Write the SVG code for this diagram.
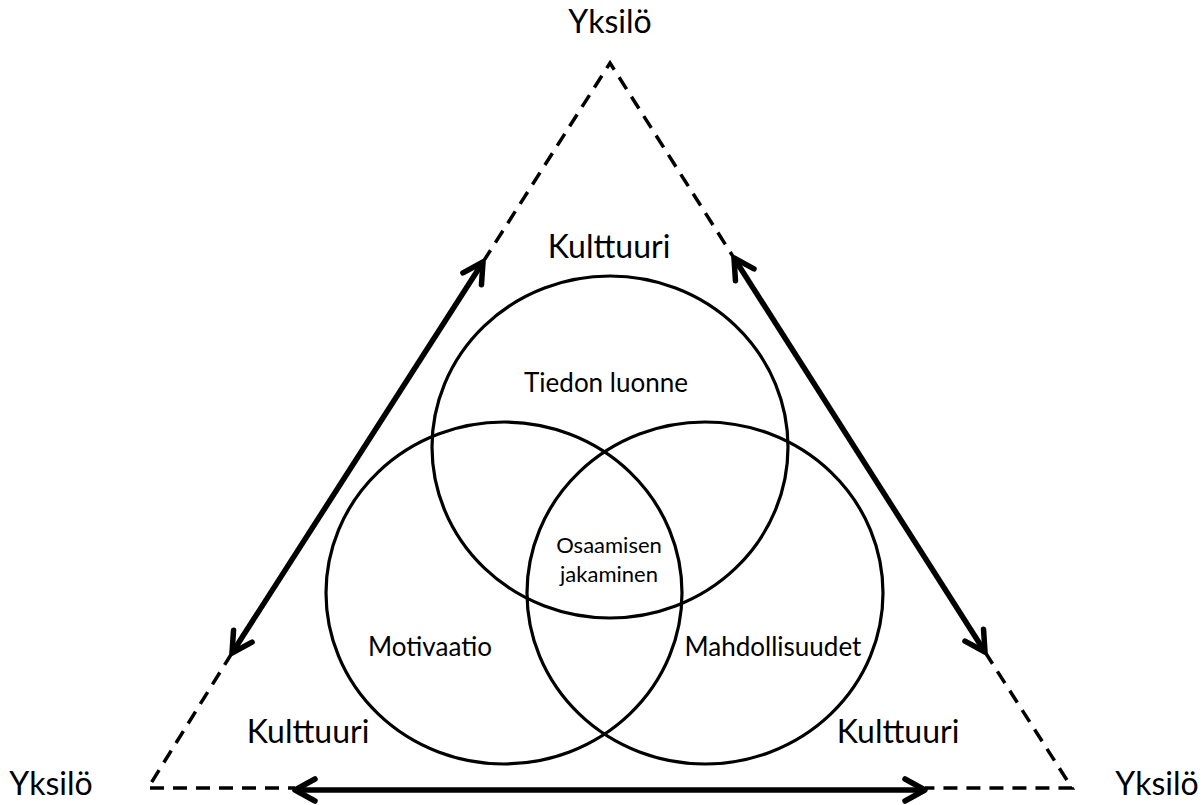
<svg xmlns="http://www.w3.org/2000/svg" width="1204" height="805" viewBox="0 0 1204 805">
<style>
.dash{fill:none;stroke:#000;stroke-width:3.5;stroke-dasharray:14 9}
.arr{fill:none;stroke:#000;stroke-width:5.5;marker-start:url(#ah);marker-end:url(#ah)}
.circ{fill:none;stroke:#000;stroke-width:3.2}
.big{font-family:Lato,"Liberation Sans",sans-serif;font-size:32px;fill:#000;text-anchor:middle}
.mid{font-family:Lato,"Liberation Sans",sans-serif;font-size:26px;fill:#000;text-anchor:middle}
.sm{font-family:Lato,"Liberation Sans",sans-serif;font-size:22px;fill:#000;text-anchor:middle}
</style>
<defs>
<marker id="ah" markerUnits="userSpaceOnUse" viewBox="-26 -16 30 32" markerWidth="30" markerHeight="32" refX="0" refY="0" orient="auto-start-reverse" overflow="visible">
<path d="M-20,-11 L0,0 L-20,11" fill="none" stroke="#000" stroke-width="5.5" stroke-linecap="round" stroke-linejoin="round"/>
</marker>
</defs>
<rect width="1204" height="805" fill="#fff"/>
<g id="circles">
<ellipse id="c-top" class="circ" cx="610" cy="447" rx="178" ry="171"/>
<ellipse id="c-left" class="circ" cx="504" cy="593" rx="178" ry="171"/>
<ellipse id="c-right" class="circ" cx="705" cy="593" rx="178" ry="171"/>
</g>
<g id="connectors">
<path class="dash" d="M483,262 L610,63 L734,258"/>
<path class="dash" d="M232,653 L148,788 L295,788"/>
<path class="dash" d="M985,652 L1072,788 L925,788"/>
<line class="arr" x1="232" y1="653" x2="483" y2="262"/>
<line class="arr" x1="734" y1="258" x2="985" y2="652"/>
<line class="arr" x1="295" y1="790" x2="925" y2="790"/>
</g>
<g id="labels">
<text class="big" x="610" y="33">Yksilö</text>
<text class="big" x="51" y="795">Yksilö</text>
<text class="big" x="1157" y="795">Yksilö</text>
<text class="big" x="609" y="258">Kulttuuri</text>
<text class="big" x="308" y="743">Kulttuuri</text>
<text class="big" x="898" y="743">Kulttuuri</text>
<text class="mid" x="606" y="392">Tiedon luonne</text>
<text class="mid" x="430" y="656">Motivaatio</text>
<text class="mid" x="773" y="656">Mahdollisuudet</text>
<text class="sm" x="609" y="553">Osaamisen</text>
<text class="sm" x="609" y="582">jakaminen</text>
</g>
</svg>
